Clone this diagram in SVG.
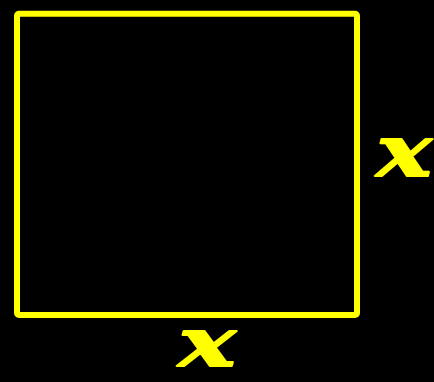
<svg xmlns="http://www.w3.org/2000/svg" width="434" height="382" viewBox="0 0 434 382">
<style>
.lbl{fill:#ffff00;stroke:#ffff00;stroke-width:2;stroke-linejoin:round;font-family:"DejaVu Serif",serif;font-style:italic;font-weight:bold;font-size:68px;text-anchor:middle}
</style>
<rect x="0" y="0" width="434" height="382" fill="#000"/>
<g id="square">
<rect x="17" y="13.7" width="340" height="301.3" rx="2" fill="none" stroke="#ffff00" stroke-width="6"/>
</g>
<g id="connectors"/>
<g id="label-right"><text class="lbl" transform="translate(404 176) scale(1.35 1.05)" x="0" y="0">x</text></g>
<g id="label-bottom"><text class="lbl" transform="translate(207 366) scale(1.4 1)" x="0" y="0">x</text></g>
</svg>
